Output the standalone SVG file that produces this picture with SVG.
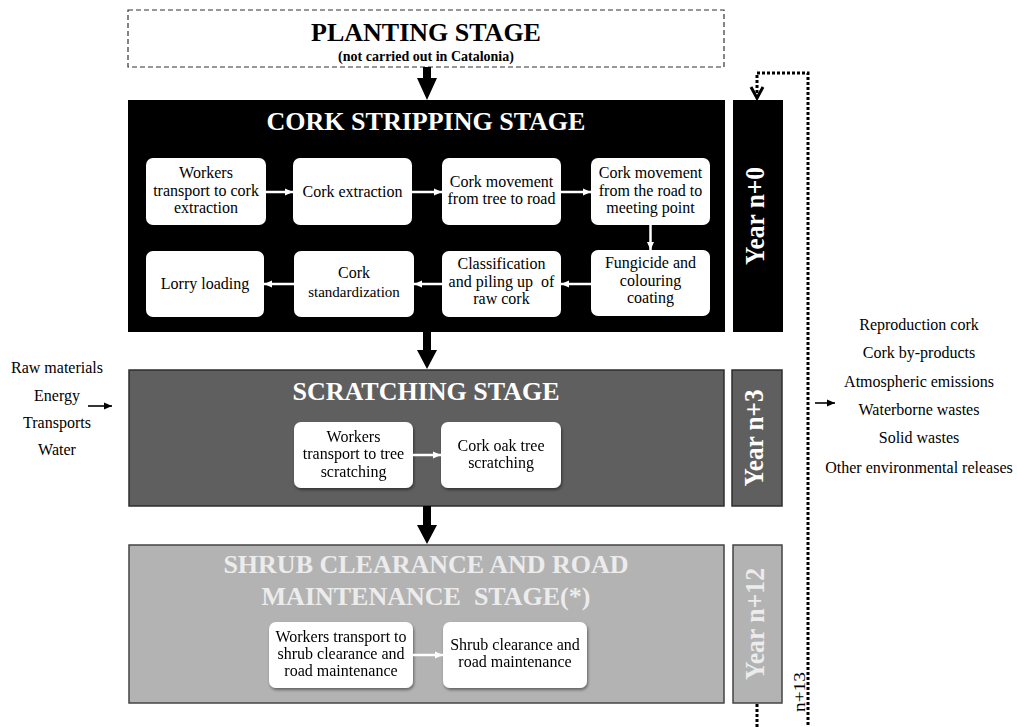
<svg xmlns="http://www.w3.org/2000/svg" width="1017" height="727" viewBox="0 0 1017 727">
  <defs>
    <style>
      .serif { font-family: "Liberation Serif", "Times New Roman", serif; }
      .title { font-family: "Liberation Serif", "Times New Roman", serif; font-weight: bold; font-size: 26px; text-anchor: middle; }
      .year { font-family: "Liberation Serif", "Times New Roman", serif; font-weight: bold; font-size: 27px; text-anchor: middle; }
      .nd { fill: #ffffff; }
      .nt { font-family: "Liberation Serif", "Times New Roman", serif; font-size: 16px; text-anchor: middle; fill: #000; }
      .io { font-family: "Liberation Serif", "Times New Roman", serif; font-size: 16px; text-anchor: middle; fill: #000; }
      .wline { stroke: #ffffff; stroke-width: 2.5; fill: none; marker-end: url(#wa); }
      .bline { stroke: #000; stroke-width: 1.6; fill: none; marker-end: url(#ba); }
      .dots { stroke: #000; stroke-width: 3; fill: none; stroke-dasharray: 3 2; }
    </style>
    <marker id="wa" markerUnits="userSpaceOnUse" markerWidth="9" markerHeight="8" refX="8" refY="4" orient="auto">
      <path d="M0,0.5 L8,4 L0,7.5 z" fill="#ffffff"/>
    </marker>
    <marker id="ba" markerUnits="userSpaceOnUse" markerWidth="9" markerHeight="8" refX="8" refY="4" orient="auto">
      <path d="M0,0.5 L8,4 L0,7.5 z" fill="#000"/>
    </marker>
    <filter id="shadow" x="-10%" y="-10%" width="130%" height="140%">
      <feDropShadow dx="1" dy="2" stdDeviation="1.5" flood-color="#000" flood-opacity="0.45"/>
    </filter>
  </defs>

  <rect width="1017" height="727" fill="#ffffff"/>

  <!-- Planting stage (dashed, outside the studied system) -->
  <g id="planting">
    <rect x="128" y="10" width="596" height="57" fill="none" stroke="#333" stroke-width="1.2" stroke-dasharray="5 3"/>
    <text class="title" x="426" y="41" fill="#000">PLANTING STAGE</text>
    <text class="serif" x="426" y="61" font-size="14" font-weight="bold" text-anchor="middle">(not carried out in Catalonia)</text>
  </g>

  <!-- Cork stripping stage -->
  <g id="cork-stripping">
    <rect x="128" y="100" width="597" height="232" fill="#000"/>
    <text class="title" x="426" y="130" fill="#ffffff">CORK STRIPPING STAGE</text>
  </g>
  <g id="year-n0">
    <rect x="733" y="100" width="50" height="232" fill="#000"/>
    <text class="year" transform="translate(764,216) rotate(-90)" fill="#ffffff" textLength="98" lengthAdjust="spacingAndGlyphs">Year n+0</text>
  </g>

  <g id="node-workers-transport">
    <rect class="nd" x="146" y="158" width="120" height="67" rx="7"/>
    <text class="nt"><tspan x="206" y="178">Workers</tspan><tspan x="206" y="196">transport to cork</tspan><tspan x="206" y="213">extraction</tspan></text>
  </g>
  <g id="node-cork-extraction">
    <rect class="nd" x="293" y="158" width="119" height="67" rx="7"/>
    <text class="nt" x="352.5" y="197">Cork extraction</text>
  </g>
  <g id="node-tree-to-road">
    <rect class="nd" x="442" y="158" width="119" height="67" rx="7"/>
    <text class="nt"><tspan x="501.5" y="187">Cork movement</tspan><tspan x="501.5" y="204">from tree to road</tspan></text>
  </g>
  <g id="node-road-to-meeting">
    <rect class="nd" x="591" y="158" width="119" height="67" rx="7"/>
    <text class="nt"><tspan x="650.5" y="178">Cork movement</tspan><tspan x="650.5" y="196">from the road to</tspan><tspan x="650.5" y="213">meeting point</tspan></text>
  </g>
  <g id="node-fungicide">
    <rect class="nd" x="591" y="250" width="119" height="66" rx="7"/>
    <text class="nt"><tspan x="650.5" y="268">Fungicide and</tspan><tspan x="650.5" y="286">colouring</tspan><tspan x="650.5" y="303">coating</tspan></text>
  </g>
  <g id="node-classification">
    <rect class="nd" x="442" y="251" width="119" height="66" rx="7"/>
    <text class="nt"><tspan x="501.5" y="269">Classification</tspan><tspan x="501.5" y="287" xml:space="preserve">and piling up  of</tspan><tspan x="501.5" y="304">raw cork</tspan></text>
  </g>
  <g id="node-standardization">
    <rect class="nd" x="294" y="251" width="120" height="66" rx="7"/>
    <text class="nt"><tspan x="354" y="278">Cork</tspan><tspan x="354" y="297" font-size="15">standardization</tspan></text>
  </g>
  <g id="node-lorry-loading">
    <rect class="nd" x="146" y="251" width="118" height="66" rx="7"/>
    <text class="nt" x="205" y="289">Lorry loading</text>
  </g>

  <!-- Scratching stage -->
  <g id="scratching">
    <rect x="129" y="370" width="595" height="136" fill="#5f5f5f" stroke="#2e2e2e" stroke-width="1.5"/>
    <text class="title" x="426" y="400" fill="#ffffff">SCRATCHING STAGE</text>
  </g>
  <g id="year-n3">
    <rect x="732" y="370" width="50" height="136" fill="#5f5f5f" stroke="#2e2e2e" stroke-width="1.5"/>
    <text class="year" transform="translate(763,438) rotate(-90)" fill="#ffffff" textLength="97" lengthAdjust="spacingAndGlyphs">Year n+3</text>
  </g>
  <g id="node-transport-scratching" filter="url(#shadow)">
    <rect class="nd" x="294" y="422" width="119" height="66" rx="7"/>
    <text class="nt"><tspan x="353.5" y="442">Workers</tspan><tspan x="353.5" y="459">transport to tree</tspan><tspan x="353.5" y="477">scratching</tspan></text>
  </g>
  <g id="node-tree-scratching" filter="url(#shadow)">
    <rect class="nd" x="441" y="422" width="120" height="66" rx="7"/>
    <text class="nt"><tspan x="501" y="451">Cork oak tree</tspan><tspan x="501" y="468">scratching</tspan></text>
  </g>

  <!-- Shrub clearance and road maintenance stage -->
  <g id="shrub-clearance">
    <rect x="129" y="545" width="595" height="158" fill="#b3b3b3" stroke="#444" stroke-width="1.5"/>
    <text class="title" fill="#ececec"><tspan x="426" y="573">SHRUB CLEARANCE AND ROAD</tspan><tspan x="426" y="605" xml:space="preserve">MAINTENANCE  STAGE(*)</tspan></text>
  </g>
  <g id="year-n12">
    <rect x="733" y="545" width="49" height="158" fill="#b3b3b3" stroke="#444" stroke-width="1.5"/>
    <text class="year" transform="translate(764,624) rotate(-90)" fill="#ececec" textLength="112" lengthAdjust="spacingAndGlyphs">Year n+12</text>
  </g>
  <g id="node-transport-shrub" filter="url(#shadow)">
    <rect class="nd" x="269" y="622" width="144" height="66" rx="7"/>
    <text class="nt"><tspan x="341" y="642">Workers transport to</tspan><tspan x="341" y="659">shrub clearance and</tspan><tspan x="341" y="676">road maintenance</tspan></text>
  </g>
  <g id="node-shrub-maintenance" filter="url(#shadow)">
    <rect class="nd" x="443" y="622" width="144" height="66" rx="7"/>
    <text class="nt"><tspan x="515" y="650">Shrub clearance and</tspan><tspan x="515" y="667">road maintenance</tspan></text>
  </g>

  <!-- System inputs and outputs -->
  <g id="inputs">
    <text class="io"><tspan x="57" y="373">Raw materials</tspan><tspan x="57" y="401">Energy</tspan><tspan x="57" y="428">Transports</tspan><tspan x="57" y="455">Water</tspan></text>
  </g>
  <g id="outputs">
    <text class="io"><tspan x="919" y="330">Reproduction cork</tspan><tspan x="919" y="358">Cork by-products</tspan><tspan x="919" y="387">Atmospheric emissions</tspan><tspan x="919" y="415">Waterborne wastes</tspan><tspan x="919" y="443">Solid wastes</tspan><tspan x="919" y="473">Other environmental releases</tspan></text>
  </g>
  <g id="cycle-label">
    <text class="serif" transform="translate(805,692) rotate(-90)" font-size="17" text-anchor="middle" textLength="40" lengthAdjust="spacingAndGlyphs">n+13</text>
  </g>

  <!-- Connectors -->
  <g id="connectors">
    <!-- stage-to-stage arrows -->
    <path d="M423,67 H431 V78 H437 L427,100 L417,78 H423 Z" fill="#000"/>
    <path d="M423,332 H431 V350 H437 L427,369 L417,350 H423 Z" fill="#000"/>
    <path d="M423,506 H431 V525 H437 L427,544 L417,525 H423 Z" fill="#000"/>

    <!-- cork stripping flow -->
    <line class="wline" x1="266" y1="192" x2="293" y2="192"/>
    <line class="wline" x1="412" y1="192" x2="442" y2="192"/>
    <line class="wline" x1="561" y1="192" x2="591" y2="192"/>
    <line class="wline" x1="650.5" y1="225" x2="650.5" y2="250"/>
    <line class="wline" x1="591" y1="284" x2="561" y2="284"/>
    <line class="wline" x1="442" y1="284" x2="414" y2="284"/>
    <line class="wline" x1="294" y1="284" x2="264" y2="284"/>

    <!-- scratching and shrub clearance flows -->
    <line class="wline" x1="413" y1="455" x2="441" y2="455"/>
    <line class="wline" x1="413" y1="655" x2="443" y2="655"/>

    <!-- inputs / outputs -->
    <line class="bline" x1="88" y1="406" x2="112" y2="406"/>
    <line class="bline" x1="815" y1="403" x2="835" y2="403"/>

    <!-- 13-year cycle back to cork stripping -->
    <path class="dots" d="M757,93 V73 H808 V727"/>
    <polyline points="751,87 757,98 763,87" fill="none" stroke="#000" stroke-width="3"/>
    <path class="dots" d="M757,704 V727"/>
  </g>
</svg>
